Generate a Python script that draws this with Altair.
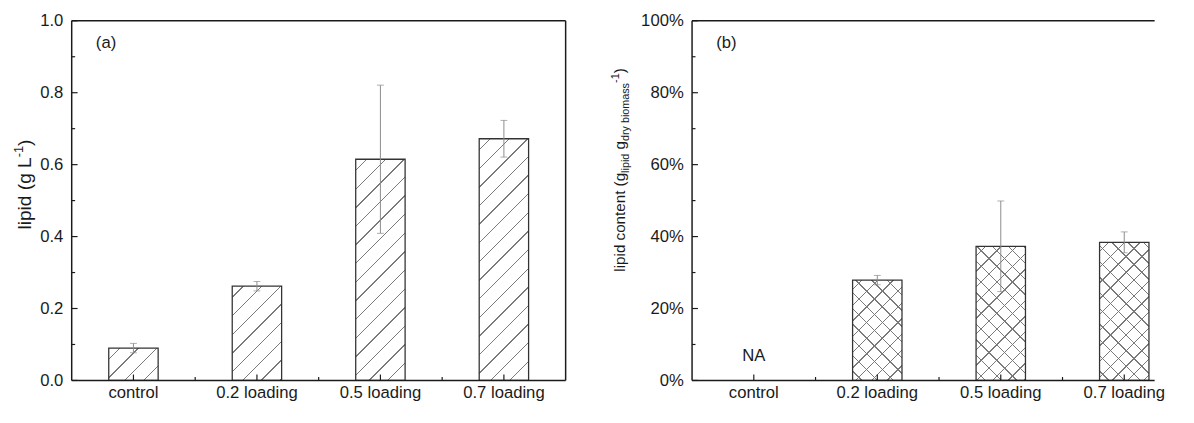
import altair as alt
import pandas as pd

# ---------------- data ----------------
categories = ["control", "0.2 loading", "0.5 loading", "0.7 loading"]
lipid_conc = [0.090, 0.262, 0.615, 0.672]          # g L-1
lipid_conc_err = [0.013, 0.013, 0.206, 0.051]
content_categories = ["0.2 loading", "0.5 loading", "0.7 loading"]
lipid_content = [0.279, 0.373, 0.384]              # fraction
lipid_content_err = [0.013, 0.126, 0.029]
na_categories = ["control"]
major_ticks = [0.0, 0.2, 0.4, 0.6, 0.8, 1.0]
minor_ticks = [0.1, 0.3, 0.5, 0.7, 0.9]

# ---------------- styling ----------------
W, H = 504, 367          # left plot area; right one is cut by the picture edge
W_RIGHT = 472
BAND = 0.4
FONT = "Liberation Sans"
INK = "#1a1a1a"
HATCH = "#7a7a7a"
ERR = "#8a8a8a"
FS = 17

y_scale = alt.Scale(domain=[0, 1], nice=False, zero=True)
x_axis = alt.Axis(title=None, labelAngle=0, ticks=False, tickSize=0, domain=False,
                  labelPadding=4, labelFontSize=FS, labelFont=FONT, labelColor=INK, grid=False,
                  labelLimit=0)


def y_axis(fmt):
    return alt.Axis(title=None, values=major_ticks, format=fmt, ticks=False, tickSize=0,
                    domain=False, labelPadding=9, labelFontSize=FS, labelFont=FONT,
                    labelColor=INK, grid=False)


def Y(field, fmt):
    return alt.Y(f"{field}:Q", scale=y_scale, axis=y_axis(fmt))


def stripes(w, h, period, direction, line, bg, thick=1.4):
    """linear gradient (bounding-box units) giving 45 degree hatch lines"""
    D = w + h
    n = w * w + h * h
    if direction == "/":
        x1, y1, x2, y2 = 0, 0, D * w / n, D * h / n
    else:
        x1, y1, x2, y2 = 0, 1, D * w / n, 1 - D * h / n
    stops = [{"offset": 0, "color": bg}]
    pos = period * 0.6
    while pos < D:
        a = max(0.0, (pos - thick / 2) / D)
        b = min(1.0, (pos + thick / 2) / D)
        stops += [{"offset": a, "color": bg}, {"offset": a, "color": line},
                  {"offset": b, "color": line}, {"offset": b, "color": bg}]
        pos += period
    stops.append({"offset": 1, "color": bg})
    return {"gradient": "linear", "x1": x1, "y1": y1, "x2": x2, "y2": y2, "stops": stops}


AW = {' ': 278, '(': 333, ')': 333, '-': 333, '1': 556, 'L': 556, 'a': 556, 'b': 556,
      'c': 500, 'd': 556, 'e': 556, 'g': 556, 'i': 222, 'l': 222, 'm': 833, 'n': 556,
      'o': 556, 'p': 556, 'r': 333, 's': 500, 't': 278, 'y': 500}


def tw(s, size):
    return sum(AW.get(c, 556) for c in s) / 1000 * size


one = pd.DataFrame({"k": [0]})


def rotated_title(pieces, x0, y0):
    layers = []
    y = y0
    for text, size, shift in pieces:
        lead = len(text) - len(text.lstrip())
        ystart = y - tw(text[:lead], size)
        layers.append(
            alt.Chart(one).mark_text(text=text.strip(), angle=270, align="left",
                                     baseline="alphabetic", fontSize=size, font=FONT,
                                     color=INK)
            .encode(x=alt.value(x0 + shift), y=alt.value(ystart))
        )
        y -= tw(text, size)
    return layers


def panel(cats, vals, errs, fmt, crosshatch, label, title_layers, width, na=None):
    xs = alt.Scale(domain=categories, range=[0, W], paddingInner=0, paddingOuter=0)

    def X(**kw):
        return alt.X("cat:N", scale=xs, axis=x_axis, **kw)

    layers = []
    bw = BAND * W / len(categories)
    for c, v in zip(cats, vals):
        d = pd.DataFrame({"cat": [c], "v": [v]})
        h = v * H
        if crosshatch:
            layers.append(alt.Chart(d).mark_bar(width=alt.RelativeBandSize(BAND),
                                                fill=stripes(bw, h, 16, "/", HATCH, "white"))
                          .encode(x=X(), y=Y("v", fmt)))
            layers.append(alt.Chart(d).mark_bar(width=alt.RelativeBandSize(BAND),
                                                fill=stripes(bw, h, 16, "\\", HATCH, "rgba(255,255,255,0)"),
                                                stroke="#333333", strokeWidth=1.3)
                          .encode(x=X(), y=Y("v", fmt)))
        else:
            layers.append(alt.Chart(d).mark_bar(width=alt.RelativeBandSize(BAND),
                                                fill=stripes(bw, h, 19, "/", HATCH, "white"),
                                                stroke="#333333", strokeWidth=1.3)
                          .encode(x=X(), y=Y("v", fmt)))
    e = pd.DataFrame({"cat": cats, "v": vals, "err": errs})
    e["lo"] = e["v"] - e["err"]
    e["hi"] = e["v"] + e["err"]
    layers.append(alt.Chart(e).mark_rule(color=ERR, strokeWidth=1)
                  .encode(x=X(), y=Y("lo", fmt), y2="hi:Q"))
    for f in ["lo", "hi"]:
        layers.append(alt.Chart(e).mark_tick(orient="horizontal", size=7, thickness=1, color=ERR)
                      .encode(x=X(), y=Y(f, fmt)))
    # inward ticks
    layers.append(alt.Chart(pd.DataFrame({"t": major_ticks})).mark_rule(color=INK, strokeWidth=1.2)
                  .encode(y=Y("t", fmt), x=alt.value(0), x2=alt.value(6)))
    layers.append(alt.Chart(pd.DataFrame({"t": minor_ticks})).mark_rule(color=INK, strokeWidth=1.2)
                  .encode(y=Y("t", fmt), x=alt.value(0), x2=alt.value(3.5)))
    layers.append(alt.Chart(pd.DataFrame({"cat": categories})).mark_rule(color=INK, strokeWidth=1.2)
                  .encode(x=X(), y=alt.value(H), y2=alt.value(H - 6)))
    layers.append(alt.Chart(pd.DataFrame({"cat": categories[1:]})).mark_rule(color=INK, strokeWidth=1.2)
                  .encode(x=X(bandPosition=0), y=alt.value(H), y2=alt.value(H - 3.5)))
    # frame: top, left, bottom (+ right when it fits in the picture)
    frame = [dict(x=alt.value(0), x2=alt.value(width), y=alt.value(0)),
             dict(x=alt.value(0), y=alt.value(0), y2=alt.value(H)),
             dict(x=alt.value(0), x2=alt.value(width), y=alt.value(H))]
    if width >= W:
        frame.append(dict(x=alt.value(width), y=alt.value(0), y2=alt.value(H)))
    for enc in frame:
        layers.append(alt.Chart(one).mark_rule(color=INK, strokeWidth=1.5).encode(**enc))
    layers.append(alt.Chart(one).mark_text(text=label, fontSize=FS, font=FONT, color=INK,
                                           align="center", baseline="middle")
                  .encode(x=alt.value(35), y=alt.value(23)))
    if na:
        layers.append(alt.Chart(pd.DataFrame({"cat": na})).mark_text(text="NA", fontSize=FS, font=FONT,
                                                                     color=INK, align="center", baseline="middle")
                      .encode(x=X(), y=alt.value(H - 25)))
    layers += title_layers
    return alt.layer(*layers).properties(width=width, height=H)


left_title = rotated_title([("lipid (g L", 19.5, 0), ("-1", 13, -8), (")", 19.5, 0)], -42, 213)
right_title = rotated_title([("lipid content (g", 15.5, 0), ("lipid", 11, 4), (" g", 15.5, 0),
                             ("dry biomass", 11, 4), ("-1", 11, -7), (")", 15.5, 0)], -68, 256)

left = panel(categories, lipid_conc, lipid_conc_err, ".1f", False, "(a)", left_title, W)
right = panel(content_categories, lipid_content, lipid_content_err, ".0%", True, "(b)", right_title,
              W_RIGHT, na=na_categories)

chart = (
    alt.hconcat(left, right, spacing=44)
    .properties(padding={"left": 5, "top": 0, "right": 0, "bottom": 0})
    .configure_view(stroke=None)
)

chart.save("out.html", embed_options={"renderer": "svg", "actions": False})
